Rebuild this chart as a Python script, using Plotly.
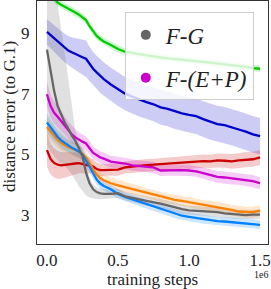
import plotly.graph_objects as go

# training steps (units of 1e6)
steps = [0, .025, .05, .075, .1, .125, .15, .175, .2, .225, .25, .275, .3, .325, .35, .375, .4,
         .45, .5, .55, .6, .65, .7, .75, .8, .85, .9, .95, 1.0, 1.05, 1.1, 1.15, 1.2, 1.25, 1.3, 1.35, 1.4, 1.45, 1.5]

green = [10.45, 10.3, 10.12, 10.0, 9.93, 9.87, 9.8, 9.74, 9.67, 9.6, 9.52, 9.42, 9.22, 9.05, 8.9, 8.8, 8.72,
         8.6, 8.47, 8.38, 8.33, 8.3, 8.26, 8.22, 8.2, 8.16, 8.14, 8.12, 8.1, 8.08, 8.06, 8.02, 8.0, 7.96, 7.94, 7.9, 7.88, 7.84, 7.82]
green_sd = [0.14, 0.14, 0.13, 0.13, 0.12, 0.12, 0.12, 0.12, 0.12, 0.12, 0.12, 0.12, 0.12, 0.12, 0.12, 0.12, 0.12,
            0.12, 0.12, 0.11, 0.11, 0.11, 0.11, 0.11, 0.11, 0.11, 0.11, 0.11, 0.11, 0.11, 0.11, 0.11, 0.11, 0.11, 0.11, 0.11, 0.11, 0.11, 0.11]

navy = [9.03, 8.93, 8.82, 8.72, 8.6, 8.5, 8.42, 8.36, 8.3, 8.26, 8.2, 8.15, 7.98, 7.82, 7.7, 7.58, 7.48,
        7.3, 7.14, 7.0, 6.9, 6.8, 6.72, 6.65, 6.55, 6.5, 6.42, 6.35, 6.3, 6.26, 6.16, 6.08, 6.0, 5.96, 5.9, 5.82, 5.75, 5.66, 5.6]
navy_sd = [0.42, 0.43, 0.44, 0.45, 0.46, 0.47, 0.48, 0.5, 0.52, 0.55, 0.58, 0.6, 0.56, 0.55, 0.55, 0.55, 0.55,
           0.55, 0.55, 0.55, 0.55, 0.55, 0.56, 0.56, 0.57, 0.57, 0.58, 0.58, 0.58, 0.59, 0.59, 0.6, 0.6, 0.6, 0.6, 0.6, 0.6, 0.6, 0.6]

gray = [8.45, 7.7, 7.1, 6.6, 6.3, 6.05, 5.85, 5.62, 5.45, 5.2, 4.95, 4.4, 4.05, 3.85, 3.76, 3.72, 3.7,
        3.7, 3.72, 3.62, 3.58, 3.52, 3.47, 3.43, 3.38, 3.32, 3.25, 3.2, 3.16, 3.15, 3.14, 3.12, 3.1, 3.06, 3.04, 3.02, 3.0, 3.02, 3.02]
gray_sd_up = [3.05, 3.5, 3.6, 3.35, 2.8, 2.3, 1.65, 0.98, 0.3, 0.2, 0.2, 0.25, 0.2, 0.17, 0.16, 0.16, 0.16,
              0.15, 0.15, 0.15, 0.15, 0.15, 0.15, 0.15, 0.15, 0.15, 0.15, 0.15, 0.15, 0.15, 0.15, 0.15, 0.15, 0.15, 0.15, 0.15, 0.15, 0.15, 0.15]
gray_sd_dn = [3.15, 2.6, 2.15, 1.8, 1.6, 1.45, 1.35, 1.27, 1.3, 1.25, 1.15, 0.75, 0.47, 0.3, 0.23, 0.2, 0.18,
              0.15, 0.15, 0.15, 0.15, 0.15, 0.15, 0.15, 0.15, 0.15, 0.15, 0.15, 0.15, 0.15, 0.15, 0.15, 0.15, 0.15, 0.15, 0.15, 0.15, 0.15, 0.15]

magenta = [6.98, 6.6, 6.38, 6.25, 6.1, 5.95, 5.8, 5.66, 5.56, 5.48, 5.42, 5.36, 5.22, 5.05, 4.98, 4.9, 4.86,
           4.76, 4.73, 4.7, 4.64, 4.62, 4.6, 4.57, 4.47, 4.48, 4.47, 4.48, 4.47, 4.44, 4.38, 4.32, 4.26, 4.24, 4.21, 4.2, 4.16, 4.12, 4.05]
magenta_sd = [0.4, 0.38, 0.36, 0.34, 0.32, 0.3, 0.28, 0.27, 0.26, 0.25, 0.24, 0.23, 0.22, 0.2, 0.2, 0.2, 0.2,
              0.19, 0.19, 0.18, 0.18, 0.18, 0.18, 0.18, 0.18, 0.18, 0.18, 0.18, 0.18, 0.18, 0.19, 0.19, 0.19, 0.2, 0.2, 0.2, 0.2, 0.2, 0.2]

red = [5.14, 4.85, 4.72, 4.66, 4.64, 4.66, 4.67, 4.68, 4.7, 4.71, 4.68, 4.66, 4.64, 4.6, 4.52, 4.48, 4.48,
       4.5, 4.5, 4.57, 4.6, 4.62, 4.65, 4.66, 4.68, 4.7, 4.72, 4.74, 4.74, 4.76, 4.78, 4.77, 4.8, 4.79, 4.77, 4.8, 4.83, 4.84, 4.9]
red_sd = [0.55, 0.5, 0.48, 0.46, 0.44, 0.42, 0.4, 0.38, 0.36, 0.33, 0.3, 0.28, 0.26, 0.24, 0.22, 0.2, 0.2,
          0.2, 0.2, 0.2, 0.2, 0.2, 0.2, 0.2, 0.2, 0.21, 0.21, 0.21, 0.22, 0.22, 0.22, 0.22, 0.23, 0.23, 0.24, 0.24, 0.25, 0.25, 0.25]

orange = [5.9, 5.75, 5.6, 5.48, 5.38, 5.3, 5.24, 5.2, 5.15, 5.08, 5.02, 4.9, 4.72, 4.5, 4.34, 4.22, 4.15,
          4.05, 3.98, 3.92, 3.86, 3.8, 3.73, 3.67, 3.6, 3.55, 3.5, 3.47, 3.43, 3.38, 3.33, 3.3, 3.27, 3.23, 3.17, 3.12, 3.1, 3.1, 3.15]
orange_sd = [0.3, 0.28, 0.27, 0.26, 0.25, 0.24, 0.23, 0.22, 0.22, 0.21, 0.2, 0.2, 0.2, 0.2, 0.2, 0.19, 0.19,
             0.18, 0.18, 0.17, 0.17, 0.16, 0.16, 0.16, 0.16, 0.16, 0.16, 0.16, 0.16, 0.16, 0.16, 0.17, 0.17, 0.17, 0.17, 0.18, 0.18, 0.18, 0.18]

lblue = [6.05, 5.88, 5.72, 5.58, 5.46, 5.37, 5.28, 5.22, 5.16, 5.1, 5.0, 4.82, 4.6, 4.38, 4.17, 4.04, 3.96,
         3.85, 3.7, 3.6, 3.52, 3.44, 3.36, 3.28, 3.2, 3.12, 3.05, 2.98, 2.94, 2.9, 2.86, 2.83, 2.8, 2.79, 2.77, 2.76, 2.74, 2.72, 2.68]
lblue_sd = [0.3, 0.28, 0.26, 0.25, 0.24, 0.23, 0.22, 0.21, 0.2, 0.2, 0.2, 0.2, 0.2, 0.19, 0.18, 0.17, 0.16,
            0.15, 0.15, 0.14, 0.14, 0.14, 0.14, 0.14, 0.14, 0.14, 0.14, 0.14, 0.14, 0.14, 0.14, 0.14, 0.14, 0.14, 0.15, 0.15, 0.15, 0.15, 0.15]

y_ticks = [3, 5, 7, 9]
x_ticks = [0, 0.5, 1.0, 1.5]
x_ticktext = ["0.0", "0.5", "1.0", "1.5"]
legend_names = ["<i>F-G</i>", "<i>F-(E+P)</i>"]

FONT = "Liberation Serif"

series = [
    (green, green_sd, green_sd, (0, 204, 0)),
    (navy, navy_sd, navy_sd, (0, 0, 204)),
    (red, red_sd, red_sd, (204, 0, 0)),
    (magenta, magenta_sd, magenta_sd, (204, 0, 204)),
    (orange, orange_sd, orange_sd, (255, 128, 0)),
    (lblue, lblue_sd, lblue_sd, (0, 128, 255)),
    (gray, gray_sd_up, gray_sd_dn, (102, 102, 102)),
]

fig = go.Figure()
for mean, up, dn, c in series:
    hi = [m + s for m, s in zip(mean, up)]
    lo = [m - s for m, s in zip(mean, dn)]
    fig.add_trace(go.Scatter(
        x=steps + steps[::-1], y=hi + lo[::-1], fill="toself",
        fillcolor="rgba(%d,%d,%d,0.2)" % c, line=dict(width=0),
        mode="lines", showlegend=False, hoverinfo="skip"))
for mean, up, dn, c in series:
    fig.add_trace(go.Scatter(
        x=steps, y=mean, mode="lines", line=dict(color="rgb(%d,%d,%d)" % c, width=2.3),
        showlegend=False))

fig.add_trace(go.Scatter(x=[None], y=[None], mode="markers", name=legend_names[0],
                         marker=dict(color="#666666", size=10), legendgroup="a"))
fig.add_trace(go.Scatter(x=[None], y=[None], mode="markers", name=legend_names[1],
                         marker=dict(color="#CC00CC", size=10), legendgroup="b"))

axis_common = dict(showline=True, mirror=True, linecolor="#333333", linewidth=1.3,
                   showgrid=False, zeroline=False, ticks="", ticklen=0,
                   tickfont=dict(family=FONT, size=17, color="#222222"))
fig.update_layout(
    width=271, height=289,
    margin=dict(l=37, r=3, t=1, b=45),
    paper_bgcolor="white", plot_bgcolor="white",
    xaxis=dict(range=[-0.07, 1.556], tickvals=x_ticks, ticktext=x_ticktext,
               ticklabelstandoff=0, **axis_common),
    yaxis=dict(range=[2.05, 10.05], tickvals=y_ticks, ticklabelstandoff=3, **axis_common),
    legend=dict(x=0.38, y=0.953, xanchor="left", yanchor="top",
                bgcolor="rgba(255,255,255,0.8)", bordercolor="#cccccc", borderwidth=1,
                font=dict(family=FONT, size=23, color="#222222"), tracegroupgap=10,
                itemwidth=30),
    annotations=[
        dict(text="training steps", xref="paper", yref="paper", x=0.498, y=-0.145,
             showarrow=False, font=dict(family=FONT, size=17, color="#222222"),
             xanchor="center", yanchor="middle"),
        dict(text="distance error (to G.1)", xref="paper", yref="paper", x=-0.117, y=0.527,
             textangle=-90, showarrow=False, font=dict(family=FONT, size=17, color="#222222"),
             xanchor="center", yanchor="middle"),
        dict(text="1e6", xref="paper", yref="paper", x=0.97, y=-0.125,
             showarrow=False, font=dict(family=FONT, size=10, color="#222222"),
             xanchor="center", yanchor="middle"),
    ],
)

fig.write_html("out.html", config={"displayModeBar": False},
               post_script="document.body.style.margin='0';document.body.style.overflow='hidden';")
